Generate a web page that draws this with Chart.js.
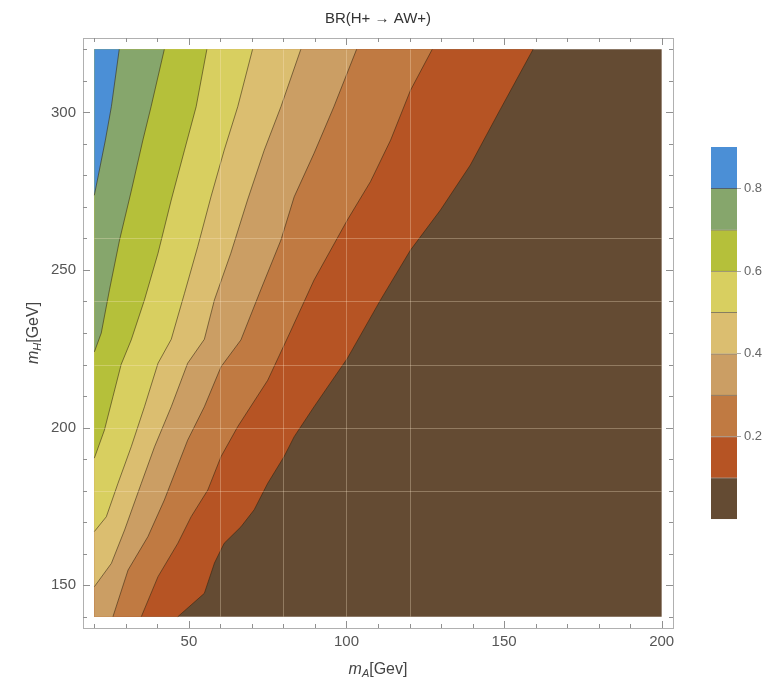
<!DOCTYPE html>
<html>
<head>
<meta charset="utf-8">
<script src="https://cdn.jsdelivr.net/npm/chart.js@4.4.0/dist/chart.umd.min.js"></script>
<style>
body { margin: 0; background: #fff; }
#wrap { position: relative; width: 774px; height: 684px; }
#main { position: absolute; left: 0; top: 0; }
#bar { position: absolute; left: 700px; top: 130px; }
</style>
</head>
<body>
<div id="wrap">
<canvas id="main" width="774" height="684"></canvas>
<canvas id="bar" width="74" height="400"></canvas>
</div>
<script>
// plot domain
var xRange = [20, 200];
var yRange = [140, 320];

// contour levels and the lines, as [mA, mH]
var levels = [0.1, 0.2, 0.3, 0.4, 0.5, 0.6, 0.7, 0.8];
var c01 = [[46.5,140],[54.9,147.4],[58.1,157],[61.2,163.3],[66.5,168.5],[70.7,173.9],[75,182.3],[80.2,190.8],[83.4,197.1],[89.7,206.6],[100.3,222],[110.8,240.5],[120.3,256.3],[129.8,269],[139.3,283.3],[147.8,299.1],[159.2,320]];
var c02 = [[34.9,140],[40.2,152.7],[46.5,163.3],[50.7,171.7],[56,180.2],[60.2,190.8],[65.5,200.3],[75,215],[82,230],[89.7,246.8],[100.3,265.9],[107.6,278],[114,291.2],[120.3,307],[127.2,320]];
var c03 = [[25.9,140],[30.7,154.8],[37,165.4],[42.2,177],[49.6,196],[54.9,206.6],[60.2,219.3],[66.5,227.8],[72.8,243.7],[79.2,259.5],[83.4,273.2],[89.7,287],[96,301.8],[103.2,320]];
var c04 = [[20,149.5],[25.4,156.9],[29.6,167.5],[34.9,182.3],[39.1,193.9],[44.4,206.6],[49.6,220.4],[54.9,228],[58.1,240.5],[63.3,255.3],[68.6,272.2],[73.9,288],[79.2,301.8],[85.5,320]];
var c05 = [[20,167],[23.8,171.7],[27.5,182.3],[31.7,193.9],[35.9,206.6],[40.2,220.4],[44.4,228],[48.6,242.6],[52.8,257.4],[57,273.2],[61.2,288],[65.5,301.8],[70.2,320]];
var c06 = [[20,190.3],[23.2,199.2],[25.9,209.8],[28.5,220],[31.7,227.8],[35.9,240.5],[40.2,255.3],[44.4,272.2],[48.6,288],[52.3,301.8],[55.7,320]];
var c07 = [[20,224],[22.2,230],[24.8,243.7],[28,259.5],[31.7,275],[35.4,291.2],[38,301.8],[42.2,320]];
var c08 = [[20,273.7],[23.5,291.2],[25.4,301.8],[27.9,320]];
var contours = [c01, c02, c03, c04, c05, c06, c07, c08];

// colour bar range
var barEdges = [0, 0.1, 0.2, 0.3, 0.4, 0.5, 0.6, 0.7, 0.8, 0.9];

// ticks and mesh
var xTicks = [50, 100, 150, 200];
var yTicks = [150, 200, 250, 300];
var xMinor = [20, 30, 40, 50, 60, 70, 80, 90, 100, 110, 120, 130, 140, 150, 160, 170, 180, 190, 200];
var yMinor = [140, 150, 160, 170, 180, 190, 200, 210, 220, 230, 240, 250, 260, 270, 280, 290, 300, 310, 320];
var gridX = [60, 80, 100, 120];
var gridY = [180, 200, 220, 240, 260];
var barTicks = [0.2, 0.4, 0.6, 0.8];

var bandColors = ["#644b33", "#b65424", "#c07a42", "#cb9e64", "#dbbe70", "#d8cf60", "#b5c03a", "#86a66c", "#4b8fd6"];
var lineColor = "rgba(50,35,15,0.55)";

Chart.defaults.font.family = "'Liberation Sans', Arial, sans-serif";

function toPts(arr) {
	return arr.map(function(p){ return {x: p[0], y: p[1]}; });
}

// region above a contour level: the line, then round the top-left corner
function region(arr) {
	var pts = toPts(arr);
	pts.push({x: xRange[0], y: yRange[1]});
	if (arr[0][1] === yRange[0]) pts.push({x: xRange[0], y: yRange[0]});
	return pts;
}

var datasets = [];
datasets.push({
	data: [{x: xRange[0], y: yRange[0]}, {x: xRange[1], y: yRange[0]}, {x: xRange[1], y: yRange[1]}, {x: xRange[0], y: yRange[1]}],
	fill: 'shape', backgroundColor: bandColors[0], borderWidth: 0, pointRadius: 0, order: 30
});
for (var i = 0; i < contours.length; i++) {
	datasets.push({
		data: region(contours[i]),
		fill: 'shape', backgroundColor: bandColors[i + 1], borderWidth: 0, pointRadius: 0, order: 20 - i
	});
}
for (var i = 0; i < contours.length; i++) {
	datasets.push({
		data: toPts(contours[i]),
		fill: false, borderColor: lineColor, borderWidth: 1, pointRadius: 0, order: 1
	});
}

var framePlugin = {
	id: 'frame',
	afterDatasetsDraw: function(chart) {
		var ctx = chart.ctx, xs = chart.scales.x, ys = chart.scales.y;
		ctx.save();
		ctx.strokeStyle = 'rgba(255,236,205,0.3)';
		ctx.lineWidth = 1;
		gridX.forEach(function(v){
			var px = Math.round(xs.getPixelForValue(v)) + 0.5;
			ctx.beginPath();
			ctx.moveTo(px, ys.getPixelForValue(yRange[0]));
			ctx.lineTo(px, ys.getPixelForValue(yRange[1]));
			ctx.stroke();
		});
		gridY.forEach(function(v){
			var py = Math.round(ys.getPixelForValue(v)) + 0.5;
			ctx.beginPath();
			ctx.moveTo(xs.getPixelForValue(xRange[0]), py);
			ctx.lineTo(xs.getPixelForValue(xRange[1]), py);
			ctx.stroke();
		});
		ctx.restore();
	},
	afterDraw: function(chart) {
		var ctx = chart.ctx, a = chart.chartArea, xs = chart.scales.x, ys = chart.scales.y;
		ctx.save();
		ctx.strokeStyle = '#b0b0b0';
		ctx.lineWidth = 1;
		ctx.strokeRect(Math.round(a.left) + 0.5, Math.round(a.top) + 0.5, Math.round(a.right - a.left), Math.round(a.bottom - a.top));
		ctx.strokeStyle = '#909090';
		xMinor.forEach(function(v){
			var len = xTicks.indexOf(v) >= 0 ? 7 : 4;
			var px = Math.round(xs.getPixelForValue(v)) + 0.5;
			ctx.beginPath();
			ctx.moveTo(px, a.bottom); ctx.lineTo(px, a.bottom - len);
			ctx.moveTo(px, a.top); ctx.lineTo(px, a.top + len);
			ctx.stroke();
		});
		yMinor.forEach(function(v){
			var len = yTicks.indexOf(v) >= 0 ? 7 : 4;
			var py = Math.round(ys.getPixelForValue(v)) + 0.5;
			ctx.beginPath();
			ctx.moveTo(a.left, py); ctx.lineTo(a.left + len, py);
			ctx.moveTo(a.right, py); ctx.lineTo(a.right - len, py);
			ctx.stroke();
		});

		// axis titles with subscripts
		ctx.fillStyle = '#444';
		ctx.textBaseline = 'alphabetic';
		ctx.textAlign = 'left';
		function label(sub, rest) {
			ctx.font = "italic 16px 'Liberation Sans', Arial, sans-serif";
			var w1 = ctx.measureText('m').width;
			ctx.font = "italic 11px 'Liberation Sans', Arial, sans-serif";
			var w2 = ctx.measureText(sub).width;
			ctx.font = "16px 'Liberation Sans', Arial, sans-serif";
			var w3 = ctx.measureText(rest).width;
			var x0 = -(w1 + w2 + w3) / 2;
			ctx.font = "italic 16px 'Liberation Sans', Arial, sans-serif";
			ctx.fillText('m', x0, 5);
			ctx.font = "italic 11px 'Liberation Sans', Arial, sans-serif";
			ctx.fillText(sub, x0 + w1, 8);
			ctx.font = "16px 'Liberation Sans', Arial, sans-serif";
			ctx.fillText(rest, x0 + w1 + w2, 5);
		}
		ctx.save();
		ctx.translate((a.left + a.right) / 2, 669);
		label('A', '[Gev]');
		ctx.restore();
		ctx.save();
		ctx.translate(33, (a.top + a.bottom) / 2);
		ctx.rotate(-Math.PI / 2);
		label('H', '[GeV]');
		ctx.restore();
		ctx.restore();
	}
};

new Chart(document.getElementById('main'), {
	type: 'line',
	data: { datasets: datasets },
	options: {
		responsive: false,
		animation: false,
		events: [],
		layout: { padding: { left: 0, right: 101, top: 0, bottom: 0 } },
		plugins: {
			legend: { display: false },
			tooltip: { enabled: false },
			title: {
				display: true,
				text: 'BR(H+ \u2192 AW+)',
				fullSize: false,
				color: '#333',
				font: { size: 15, weight: 'normal' },
				padding: { top: 10, bottom: 10 }
			}
		},
		scales: {
			x: {
				type: 'linear',
				min: 16.4, max: 203.6,
				grid: { display: false, drawTicks: false },
				border: { display: false },
				afterBuildTicks: function(s){ s.ticks = xTicks.map(function(v){ return {value: v}; }); },
				afterFit: function(s){ s.height = 56; },
				ticks: { color: '#555', font: { size: 15 }, padding: 5, maxRotation: 0 }
			},
			y: {
				type: 'linear',
				min: 136.4, max: 323.6,
				grid: { display: false, drawTicks: false },
				border: { display: false },
				afterBuildTicks: function(s){ s.ticks = yTicks.map(function(v){ return {value: v}; }); },
				afterFit: function(s){ s.width = 83; },
				ticks: { color: '#555', font: { size: 15 }, padding: 7 }
			}
		}
	},
	plugins: [framePlugin]
});

// colour bar legend
var barSets = [];
for (var i = 0; i < bandColors.length; i++) {
	barSets.push({
		data: [[barEdges[i], barEdges[i + 1]]],
		backgroundColor: bandColors[i],
		borderColor: lineColor,
		borderWidth: i < bandColors.length - 1 ? { top: 1, bottom: 0, left: 0, right: 0 } : 0,
		borderSkipped: false,
		grouped: false,
		barPercentage: 1,
		categoryPercentage: 1
	});
}

new Chart(document.getElementById('bar'), {
	type: 'bar',
	data: { labels: [''], datasets: barSets },
	options: {
		responsive: false,
		animation: false,
		events: [],
		layout: { padding: { left: 11, right: 0, top: 17, bottom: 10 } },
		plugins: { legend: { display: false }, tooltip: { enabled: false } },
		scales: {
			x: { display: false },
			y: {
				position: 'right',
				min: 0, max: 0.9,
				grid: { drawOnChartArea: false, tickLength: 4, color: '#aaa' },
				border: { display: false },
				afterBuildTicks: function(s){ s.ticks = barTicks.map(function(v){ return {value: v}; }); },
				afterFit: function(s){ s.width = 37; },
				ticks: { color: '#666', font: { size: 13 }, padding: 3, callback: function(v){ return v.toFixed(1); } }
			}
		}
	}
});
</script>
</body>
</html>
